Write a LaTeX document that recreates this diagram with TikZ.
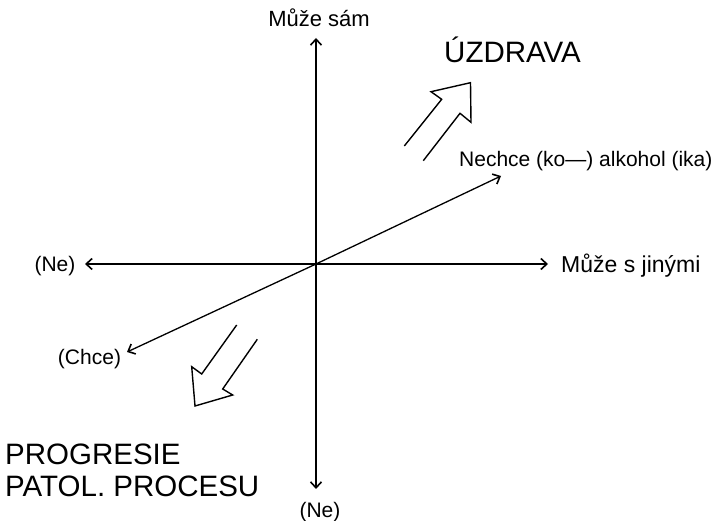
\documentclass[tikz,border=0pt]{standalone}
\usepackage{fontspec}
\setmainfont{Liberation Sans}
\usetikzlibrary{arrows.meta}
\begin{document}
\begin{tikzpicture}[x=1pt,y=-1pt,
  axis/.style={line width=1.3pt,-{Straight Barb[length=6pt,width=11pt,line width=1.6pt]}},
  lbl/.style={font=\fontsize{21}{24}\selectfont,inner sep=0pt},
  big/.style={font=\fontsize{29.5}{32}\selectfont,inner sep=0pt},
  hollow/.style={line width=1.4pt,line join=miter}]
\useasboundingbox (0,0) rectangle (716,521);
\coordinate (O) at (316,264);
\coordinate (T) at (316,38);
\coordinate (B) at (316,489);
\coordinate (L) at (85,264);
\coordinate (R) at (548,264);
\coordinate (NE) at (501,176);
\coordinate (SW) at (127,352);
\draw[axis] (O) -- (T);
\draw[axis] (O) -- (B);
\draw[axis] (O) -- (L);
\draw[axis] (O) -- (R);
\draw[axis] (O) -- (NE);
\draw[axis] (O) -- (SW);
\node[lbl,font=\fontsize{22}{24}\selectfont] (top) at (319,18) {Může sám};
\node[lbl] (bot) at (320,512) {(Ne)};
\node[lbl] (left) at (55,266) {(Ne)};
\node[lbl,font=\fontsize{23}{26}\selectfont,anchor=west] (right) at (561,266) {Může s jinými};
\node[lbl,anchor=west] (nechce) at (459,161) {Nechce (ko---) alkohol (ika)};
\node[lbl] (chce) at (89.5,359) {(Chce)};
\node[big,anchor=base west] (uzd) at (444,63) {ÚZDRAVA};
\node[big,anchor=base west] (prog1) at (5,465) {PROGRESIE};
\node[big,anchor=base west] (prog2) at (5,496.7) {PATOL. PROCESU};
% hollow arrows
\draw[hollow] (404.3,146) -- (441.7,99.3) -- (431,91.7) -- (470.5,82.7) -- (471,122.3) -- (460,113.3) -- (423.3,160.7);
\draw[hollow] (236.7,325) -- (201.7,374) -- (191.7,366.7) -- (195,406) -- (232.7,395) -- (222.7,389) -- (257.3,339.3);
\end{tikzpicture}
\end{document}
